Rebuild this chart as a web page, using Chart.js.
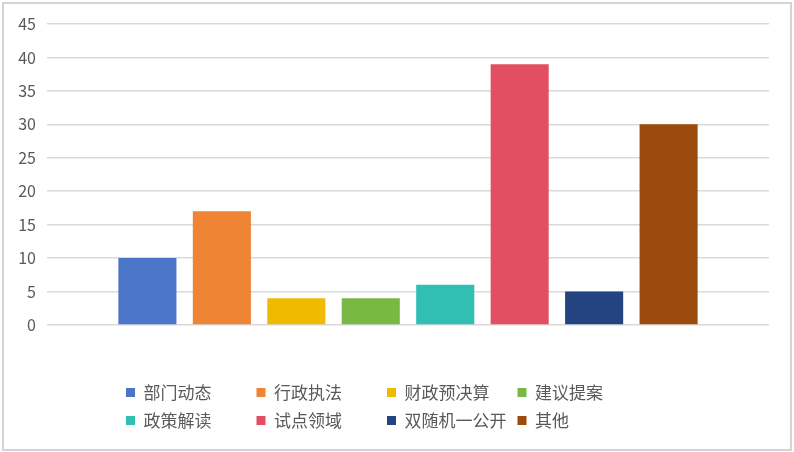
<!DOCTYPE html>
<html><head><meta charset="utf-8">
<script src="https://cdn.jsdelivr.net/npm/chart.js@4.4.1/dist/chart.umd.min.js"></script>
<style>
html,body{margin:0;padding:0;background:#fff;}
#wrap{position:relative;width:794px;height:452px;overflow:hidden;}
#frame{position:absolute;left:2px;top:2px;width:786px;height:445px;border:2px solid #d4d4d4;pointer-events:none;}
canvas{display:block;}
</style></head><body>
<div id="wrap"><canvas id="c" width="794" height="452"></canvas><div id="frame"></div></div>
<script>
const categories = [''];
const seriesNames = ['部门动态','行政执法','财政预决算','建议提案','政策解读','试点领域','双随机一公开','其他'];
const seriesValues = [10, 17, 4, 4, 6, 39, 5, 30];
const seriesColors = ['#4a75c9','#ef8534','#f0ba00','#78b843','#30bfb2','#e34f62','#244481','#9c4b0e'];
const yTickMin = 0, yTickMax = 45, yTickStep = 5;

const datasets = seriesNames.map((name, i) => ({
  label: name,
  data: [seriesValues[i]],
  backgroundColor: seriesColors[i],
  borderWidth: 0,
  categoryPercentage: 0.825,
  barPercentage: 0.78
}));

const legendPlace = {
  id: 'legendPlace',
  afterUpdate(chart) {
    const l = chart.legend;
    if (!l) return;
    l.left = 115;
    l.right = 665;
  }
};

new Chart(document.getElementById('c'), {
  type: 'bar',
  data: { labels: categories, datasets },
  plugins: [legendPlace],
  options: {
    responsive: false,
    animation: false,
    devicePixelRatio: 1,
    layout: { padding: { left: 0, right: 25, top: 24, bottom: 13 } },
    plugins: {
      tooltip: { enabled: false },
      legend: {
        position: 'bottom',
        align: 'start',
        labels: {
          boxWidth: 9,
          boxHeight: 9,
          padding: 11,
          color: '#595959',
          font: { family: '"Noto Sans CJK SC", "Noto Sans", sans-serif', size: 17 },
          generateLabels(chart) {
            const items = Chart.defaults.plugins.legend.labels.generateLabels(chart);
            items.forEach(it => {
              const n = [...it.text].length;
              it.text = it.text + '\u3000'.repeat(Math.max(0, 6 - n));
              it.lineWidth = 0;
            });
            return items;
          }
        }
      }
    },
    scales: {
      x: {
        grid: { display: false },
        border: { display: false },
        ticks: { display: false },
        afterFit(s) { s.height = 48; }
      },
      y: {
        min: yTickMin,
        max: yTickMax,
        ticks: {
          stepSize: yTickStep,
          color: '#595959',
          padding: 11,
          font: { family: '"Noto Sans CJK SC", "Noto Sans", sans-serif', size: 16 }
        },
        grid: { color: '#d9d9d9', lineWidth: 1.5, drawTicks: false },
        border: { display: false },
        afterFit(s) { s.width = 47; }
      }
    }
  }
});
</script>
</body></html>
